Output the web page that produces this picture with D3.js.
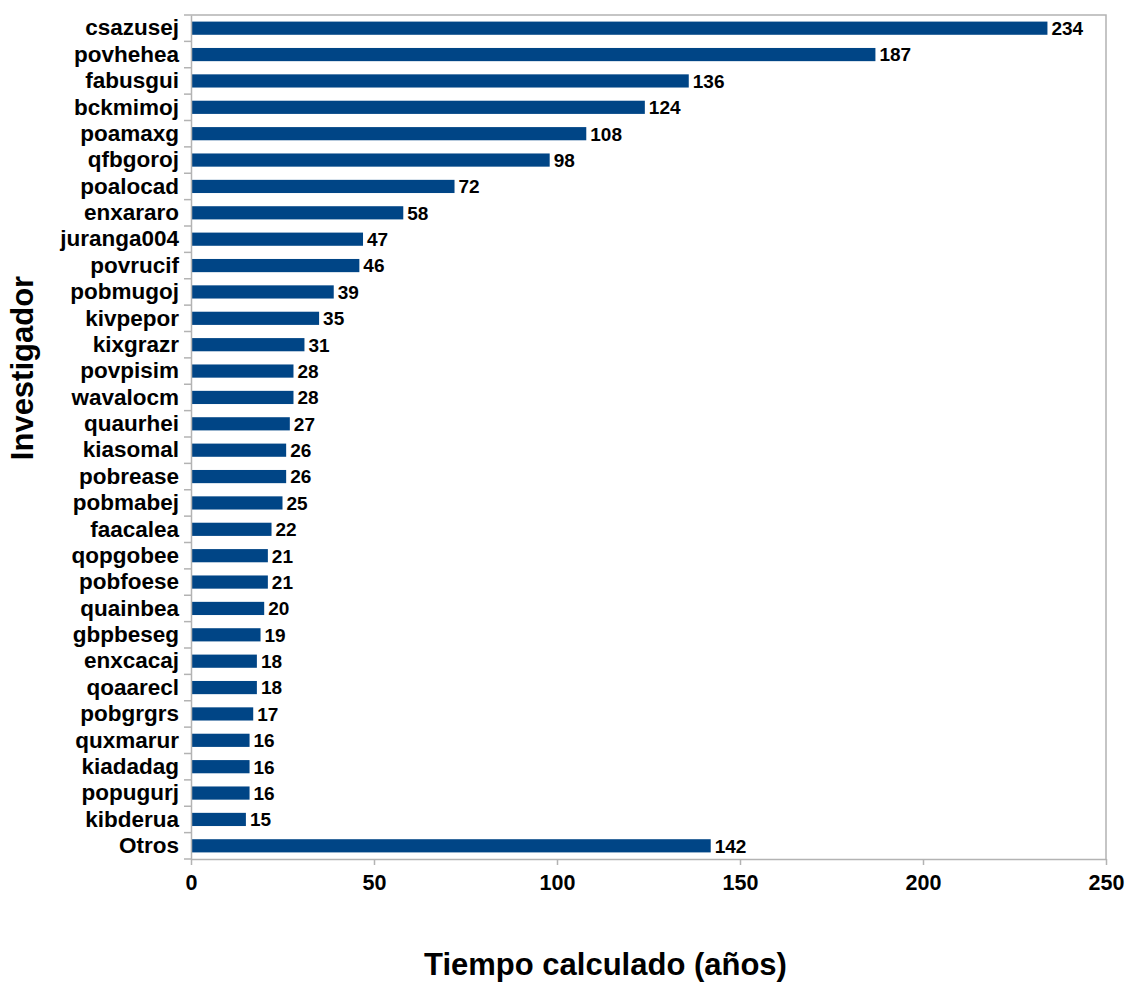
<!DOCTYPE html>
<html>
<head>
<meta charset="utf-8">
<script src="https://cdn.jsdelivr.net/npm/d3@7"></script>
<style>
  body { margin: 0; background: #fff; }
  text { font-family: "Liberation Sans", Arial, sans-serif; font-weight: bold; fill: #000; }
</style>
</head>
<body>
<div id="chart"></div>
<script>
const investigadores = [
  "csazusej", "povhehea", "fabusgui", "bckmimoj", "poamaxg", "qfbgoroj",
  "poalocad", "enxararo", "juranga004", "povrucif", "pobmugoj", "kivpepor",
  "kixgrazr", "povpisim", "wavalocm", "quaurhei", "kiasomal", "pobrease",
  "pobmabej", "faacalea", "qopgobee", "pobfoese", "quainbea", "gbpbeseg",
  "enxcacaj", "qoaarecl", "pobgrgrs", "quxmarur", "kiadadag", "popugurj",
  "kibderua", "Otros"
];
const tiempos = [
  234, 187, 136, 124, 108, 98,
  72, 58, 47, 46, 39, 35,
  31, 28, 28, 27, 26, 26,
  25, 22, 21, 21, 20, 19,
  18, 18, 17, 16, 16, 16,
  15, 142
];
const xTicks = [0, 50, 100, 150, 200, 250];

const barColor = "#004586";
const axisColor = "#b3b3b3";

let dimensions = {
  width: 1126,
  height: 982,
  margin: { top: 15, right: 20, bottom: 123, left: 191 },
};
dimensions.boundedWidth = dimensions.width - dimensions.margin.left - dimensions.margin.right;
dimensions.boundedHeight = dimensions.height - dimensions.margin.top - dimensions.margin.bottom;

const dataset = investigadores.map((name, i) => ({ name, value: tiempos[i] }));

const wrapper = d3.select("#chart")
  .append("svg")
  .attr("width", dimensions.width)
  .attr("height", dimensions.height);

const bounds = wrapper.append("g")
  .attr("transform", `translate(${dimensions.margin.left},${dimensions.margin.top})`);

// scales
const xScale = d3.scaleLinear()
  .domain([0, 250])
  .range([0, dimensions.boundedWidth]);

const yScale = d3.scaleBand()
  .domain(investigadores)
  .range([0, dimensions.boundedHeight])
  .paddingInner(0.5)
  .paddingOuter(0.25);

// plot frame (top and right)
bounds.append("path")
  .attr("d", `M0,0H${dimensions.boundedWidth}V${dimensions.boundedHeight}`)
  .attr("fill", "none")
  .attr("stroke", axisColor)
  .attr("stroke-width", 1.5);

// bars
bounds.append("g")
  .selectAll("rect")
  .data(dataset)
  .join("rect")
  .attr("x", 0)
  .attr("y", d => yScale(d.name))
  .attr("width", d => xScale(d.value))
  .attr("height", yScale.bandwidth())
  .attr("fill", barColor);

// value labels
bounds.append("g")
  .selectAll("text")
  .data(dataset)
  .join("text")
  .attr("x", d => xScale(d.value) + 4)
  .attr("y", d => yScale(d.name) + yScale.bandwidth() / 2)
  .attr("dy", "0.36em")
  .style("font-size", "19px")
  .text(d => d.value);

// x axis
const xAxis = bounds.append("g")
  .attr("transform", `translate(0,${dimensions.boundedHeight})`)
  .call(d3.axisBottom(xScale).tickValues(xTicks).tickSize(6).tickSizeOuter(0).tickPadding(10));
xAxis.select(".domain").attr("stroke", axisColor).attr("stroke-width", 1.5);
xAxis.selectAll(".tick line").attr("stroke", axisColor).attr("stroke-width", 1.5);
xAxis.selectAll(".tick text").style("font-size", "21.5px").attr("font-family", null);

// y axis
const yAxis = bounds.append("g")
  .call(d3.axisLeft(yScale).tickSize(0).tickPadding(12));
yAxis.select(".domain").attr("stroke", axisColor).attr("stroke-width", 1.5);
yAxis.selectAll(".tick text").style("font-size", "22.5px").attr("font-family", null);

// category boundary ticks
const step = yScale.step();
const boundaries = investigadores.map(d => yScale(d) - step * 0.25)
  .concat([dimensions.boundedHeight]);
bounds.append("g")
  .selectAll("line")
  .data(boundaries)
  .join("line")
  .attr("x1", -7)
  .attr("x2", 0)
  .attr("y1", d => d)
  .attr("y2", d => d)
  .attr("stroke", axisColor)
  .attr("stroke-width", 1.5);

// axis titles
wrapper.append("text")
  .attr("x", dimensions.margin.left + dimensions.boundedWidth / 2 - 43)
  .attr("y", 975)
  .attr("text-anchor", "middle")
  .style("font-size", "31px")
  .text("Tiempo calculado (años)");

wrapper.append("text")
  .attr("transform", `translate(33,368) rotate(-90)`)
  .attr("text-anchor", "middle")
  .style("font-size", "31px")
  .text("Investigador");
</script>
</body>
</html>
